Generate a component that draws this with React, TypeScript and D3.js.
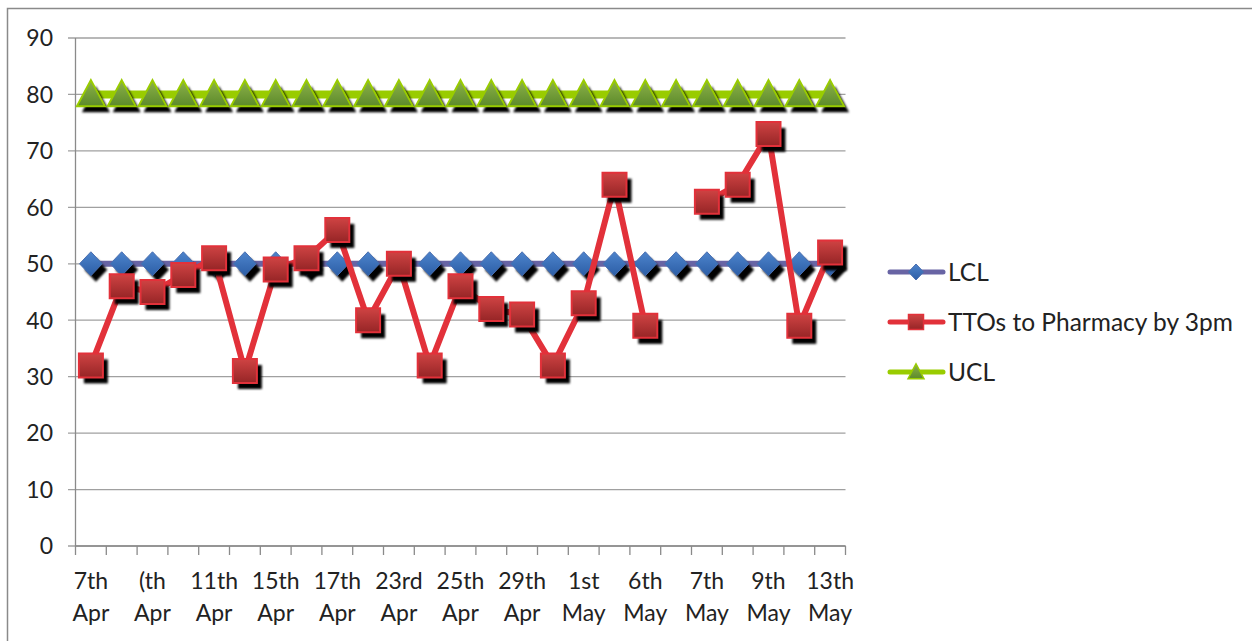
import React from "react";
import * as d3 from "d3";

// Daily counts of TTOs sent to pharmacy by 3pm, with control limits
const dateLabels = [
  "7th Apr", "(th Apr", "11th Apr", "15th Apr", "17th Apr", "23rd Apr", "25th Apr",
  "29th Apr", "1st May", "6th May", "7th May", "9th May", "13th May",
];
const ttoValues: (number | null)[] = [
  32, 46, 45, 48, 51, 31, 49, 51, 56, 40, 50, 32, 46, 42, 41, 32, 43, 64, 39, null,
  61, 64, 73, 39, 52,
];
const lclValue = 50;
const uclValue = 80;
const yTicks = [0, 10, 20, 30, 40, 50, 60, 70, 80, 90];
const seriesNames = ["LCL", "TTOs to Pharmacy by 3pm", "UCL"];

const W = 1252;
const H = 641;
const FONT = "Lato, 'Open Sans', sans-serif";

const indices = d3.range(ttoValues.length);
const lclValues = indices.map(() => lclValue);
const uclValues = indices.map(() => uclValue);

const x = d3.scaleBand<number>().domain(indices).range([75.5, 845.5]).padding(0);
const y = d3.scaleLinear().domain([0, 90]).range([546, 38]);
const cx = (i: number) => (x(i) as number) + x.bandwidth() / 2;

const lineGen = d3
  .line<number | null>()
  .defined((d) => d !== null)
  .x((_, i) => cx(i))
  .y((d) => y(d as number));

const diamond = (s: number) => `M0,${-s}L${s * 0.95},0L0,${s}L${-s * 0.95},0Z`;
const triangle = (w: number, h: number) => `M0,${-h * 0.55}L${w / 2},${h * 0.45}L${-w / 2},${h * 0.45}Z`;
const square = (s: number) => `M${-s},${-s}H${s}V${s}H${-s}Z`;

const SHADOW_DX = 5;
const SHADOW_DY = 6;

function Markers({ values, path, fill, stroke, sw }: {
  values: (number | null)[]; path: string; fill: string; stroke: string; sw: number;
}) {
  const pts = values
    .map((v, i) => ({ v, i }))
    .filter((p) => p.v !== null) as { v: number; i: number }[];
  return (
    <g>
      <g filter="url(#soft)">
        {pts.map((p) => (
          <path key={"s" + p.i} d={path} fill="#000"
            transform={`translate(${cx(p.i) + SHADOW_DX},${y(p.v) + SHADOW_DY})`} />
        ))}
      </g>
      {pts.map((p) => (
        <path key={"m" + p.i} d={path} fill={fill} stroke={stroke} strokeWidth={sw}
          transform={`translate(${cx(p.i)},${y(p.v)})`} />
      ))}
    </g>
  );
}

export default function App() {
  const legendY = [272, 322, 372];
  const legendColors = ["#6864a4", "#e2313a", "#99cc00"];
  return (
    <svg width={W} height={H} style={{ position: "absolute", left: 0, top: 0, background: "#fff" }}
      fontFamily={FONT}>
      <defs>
        <linearGradient id="gBlue" x1="0" y1="0" x2="0" y2="1">
          <stop offset="0" stopColor="#4d84cc" />
          <stop offset="1" stopColor="#2c5ea6" />
        </linearGradient>
        <linearGradient id="gRed" x1="0" y1="0" x2="0" y2="1">
          <stop offset="0" stopColor="#cf4343" />
          <stop offset="1" stopColor="#962526" />
        </linearGradient>
        <linearGradient id="gGreen" x1="0" y1="0" x2="0" y2="1">
          <stop offset="0" stopColor="#8db24a" />
          <stop offset="1" stopColor="#5c8a2a" />
        </linearGradient>
        <filter id="soft" x="-30%" y="-30%" width="160%" height="160%">
          <feGaussianBlur stdDeviation="0.8" />
        </filter>
      </defs>

      {/* chart frame */}
      <path d={`M7.5,${H}V8.5H${W}`} fill="none" stroke="#8a8a8a" strokeWidth={1.5} />

      {/* gridlines and y axis labels */}
      {yTicks.map((t) => (
        <g key={t}>
          <line x1={68} x2={845.5} y1={y(t)} y2={y(t)} stroke="#a0a0a0" strokeWidth={1.3} />
          <text x={53} y={y(t)} dy="0.36em" textAnchor="end" fontSize={23} fill="#222">{t}</text>
        </g>
      ))}
      <line x1={75.5} x2={75.5} y1={y(90)} y2={y(0)} stroke="#8a8a8a" strokeWidth={1.3} />
      <line x1={75.5} x2={845.5} y1={y(0)} y2={y(0)} stroke="#8a8a8a" strokeWidth={1.3} />

      {/* category ticks */}
      {d3.range(ttoValues.length + 1).map((k) => {
        const xp = 75.5 + k * x.bandwidth();
        return <line key={k} x1={xp} x2={xp} y1={y(0)} y2={y(0) + 9} stroke="#8a8a8a" strokeWidth={1.3} />;
      })}

      {/* date labels on every other category */}
      {dateLabels.map((lab, j) => {
        const [a, b] = lab.split(" ");
        const xp = cx(j * 2);
        return (
          <text key={lab + j} x={xp} textAnchor="middle" fontSize={23} fill="#222">
            <tspan x={xp} y={589}>{a}</tspan>
            <tspan x={xp} y={621}>{b}</tspan>
          </text>
        );
      })}

      {/* LCL */}
      <path d={lineGen(lclValues) as string} fill="none" stroke="#6864a4" strokeWidth={6} />
      <Markers values={lclValues} path={diamond(12)} fill="url(#gBlue)" stroke="#4a6fb0" sw={1} />

      {/* TTOs to Pharmacy by 3pm */}
      <path d={lineGen(ttoValues) as string} fill="none" stroke="#e2313a" strokeWidth={6}
        strokeLinejoin="round" />
      <Markers values={ttoValues} path={square(12)} fill="url(#gRed)" stroke="#e2313a" sw={2} />

      {/* UCL */}
      <path d={lineGen(uclValues) as string} fill="none" stroke="#99cc00" strokeWidth={8} />
      <Markers values={uclValues} path={triangle(28, 26)} fill="url(#gGreen)" stroke="#99cc00" sw={2} />

      {/* legend */}
      {seriesNames.map((name, k) => (
        <g key={name} transform={`translate(0,${legendY[k]})`}>
          <line x1={890} x2={943} y1={0} y2={0} stroke={legendColors[k]} strokeWidth={5}
            strokeLinecap="round" />
          {k === 0 && <path d={diamond(8)} transform="translate(916,0)" fill="url(#gBlue)" stroke="#4a6fb0" />}
          {k === 1 && <path d={square(7.5)} transform="translate(916,0)" fill="url(#gRed)" stroke="#e2313a" strokeWidth={1.5} />}
          {k === 2 && <path d={triangle(16, 15)} transform="translate(916,0)" fill="url(#gGreen)" stroke="#99cc00" strokeWidth={1.5} />}
          <text x={948} y={0} dy="0.36em" fontSize={24.5} fill="#222">{name}</text>
        </g>
      ))}
    </svg>
  );
}
